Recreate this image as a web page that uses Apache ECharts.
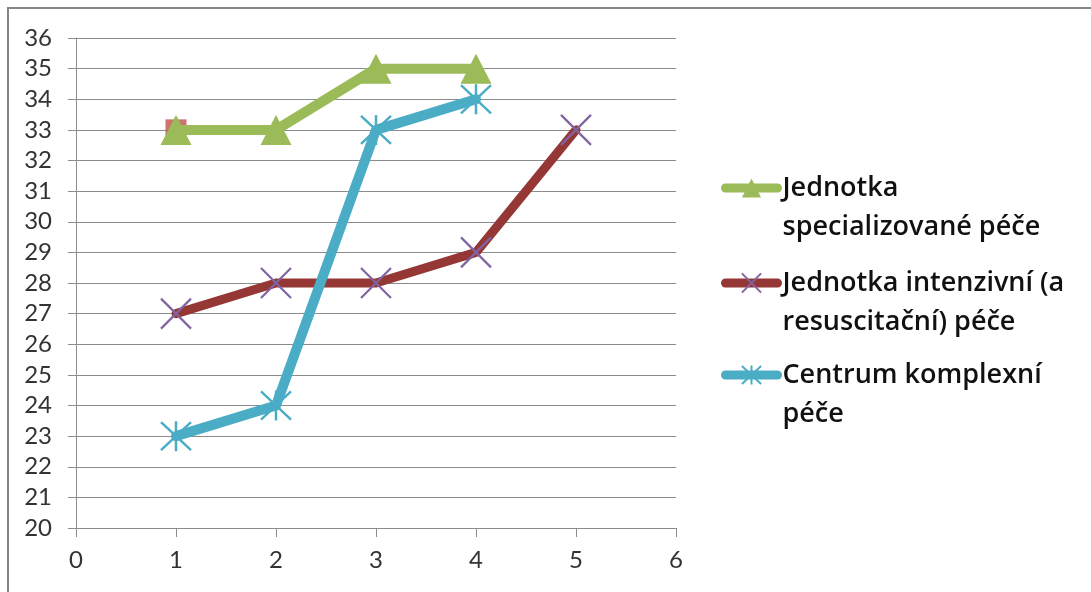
<!DOCTYPE html>
<html>
<head>
<meta charset="utf-8">
<script src="https://cdn.jsdelivr.net/npm/echarts@6/dist/echarts.min.js"></script>
<style>
  html, body { margin: 0; padding: 0; background: #ffffff; }
  #chart { width: 1091px; height: 592px; }
</style>
</head>
<body>
<div id="chart"></div>
<script>
// Series names and values (x = year of evaluation, y = score)
const seriesNames = [
  'Jednotka\nspecializované péče',
  'Jednotka intenzivní (a\nresuscitační) péče',
  'Centrum komplexní\npéče'
];
const specializovanaX = [1, 2, 3, 4];
const specializovanaY = [33, 33, 35, 35];
const intenzivniX = [1, 2, 3, 4, 5];
const intenzivniY = [27, 28, 28, 29, 33];
const komplexniX = [1, 2, 3, 4];
const komplexniY = [23, 24, 33, 34];
// Lone square marker sitting behind the first green point
const squareX = [1];
const squareY = [33];

const xTicks = [0, 1, 2, 3, 4, 5, 6];
const yTicks = [20, 21, 22, 23, 24, 25, 26, 27, 28, 29, 30, 31, 32, 33, 34, 35, 36];

const pairs = (xs, ys) => xs.map((x, i) => [x, ys[i]]);

const GRID_GRAY = '#8c8c8c';
const FONT = 'Lato, "Open Sans", sans-serif';
const LEGEND_FONT = '"Open Sans", Lato, sans-serif';

const GREEN = '#9bbb59';
const DARK_RED = '#953735';
const BLUE = '#4bacc6';
const PURPLE = '#8064a2';

const crossPath = 'path://M0,0L30,30M30,0L0,30';
const starPath = 'path://M0,0L30,30M30,0L0,30M15,-1L15,31';

// One legend per series so each label block can be placed on its own;
// a leading blank line keeps the icon level with the first text line.
function legendFor(name, iconCenterY, lineWidth) {
  const LH = 39;
  return {
    orient: 'vertical',
    left: 721,
    top: iconCenterY - LH * 1.5,
    padding: 0,
    itemWidth: 52,
    itemHeight: 24,
    data: [name],
    formatter: n => '\n' + n,
    lineStyle: { width: lineWidth, cap: 'round' },
    textStyle: {
      fontFamily: LEGEND_FONT,
      fontSize: 27,
      fontWeight: 600,
      color: '#111111',
      lineHeight: LH
    }
  };
}

const option = {
  animation: false,
  backgroundColor: '#ffffff',
  grid: { left: 76, right: 415, top: 38, bottom: 64, containLabel: false },
  xAxis: {
    type: 'value',
    min: xTicks[0],
    max: xTicks[xTicks.length - 1],
    interval: 1,
    axisLine: { show: true, lineStyle: { color: GRID_GRAY, width: 1 } },
    axisTick: { show: true, length: 9, lineStyle: { color: GRID_GRAY, width: 1 } },
    splitLine: { show: false },
    axisLabel: { color: '#333333', fontFamily: FONT, fontSize: 24, margin: 20 }
  },
  yAxis: {
    type: 'value',
    min: yTicks[0],
    max: yTicks[yTicks.length - 1],
    interval: 1,
    axisLine: { show: true, lineStyle: { color: GRID_GRAY, width: 1 } },
    axisTick: { show: true, length: 8, lineStyle: { color: GRID_GRAY, width: 1 } },
    splitLine: { show: true, lineStyle: { color: GRID_GRAY, width: 1 } },
    axisLabel: { color: '#333333', fontFamily: FONT, fontSize: 24, margin: 24 }
  },
  legend: [
    legendFor(seriesNames[0], 188, 9),
    legendFor(seriesNames[1], 283, 9),
    legendFor(seriesNames[2], 375, 9)
  ],
  series: [
    {
      name: 'square',
      type: 'scatter',
      data: pairs(squareX, squareY),
      symbol: 'rect',
      symbolSize: 21,
      itemStyle: { color: '#c0504d' },
      z: 1
    },
    {
      name: seriesNames[0],
      type: 'line',
      data: pairs(specializovanaX, specializovanaY),
      symbol: 'triangle',
      symbolSize: [31, 30],
      showAllSymbol: true,
      lineStyle: { color: GREEN, width: 10, cap: 'round', join: 'round' },
      itemStyle: { color: GREEN },
      z: 2
    },
    {
      name: seriesNames[1],
      type: 'line',
      data: pairs(intenzivniX, intenzivniY),
      symbol: crossPath,
      symbolSize: 30,
      showAllSymbol: true,
      lineStyle: { color: DARK_RED, width: 9, cap: 'round', join: 'round' },
      itemStyle: { color: 'rgba(0,0,0,0)', borderColor: PURPLE, borderWidth: 2.2 },
      z: 3
    },
    {
      name: seriesNames[2],
      type: 'line',
      data: pairs(komplexniX, komplexniY),
      symbol: starPath,
      symbolSize: 30,
      showAllSymbol: true,
      lineStyle: { color: BLUE, width: 10, cap: 'round', join: 'round' },
      itemStyle: { color: 'rgba(0,0,0,0)', borderColor: BLUE, borderWidth: 2.5 },
      z: 4
    }
  ],
  graphic: [
    // frame along the top and left edges
    { type: 'line', shape: { x1: 7, y1: 8, x2: 1091, y2: 8 }, style: { stroke: '#868686', lineWidth: 2 }, z: 10 },
    { type: 'line', shape: { x1: 8, y1: 7, x2: 8, y2: 592 }, style: { stroke: '#868686', lineWidth: 2 }, z: 10 }
  ]
};

const chart = echarts.init(document.getElementById('chart'), null, { renderer: 'canvas' });
chart.setOption(option);
</script>
</body>
</html>
